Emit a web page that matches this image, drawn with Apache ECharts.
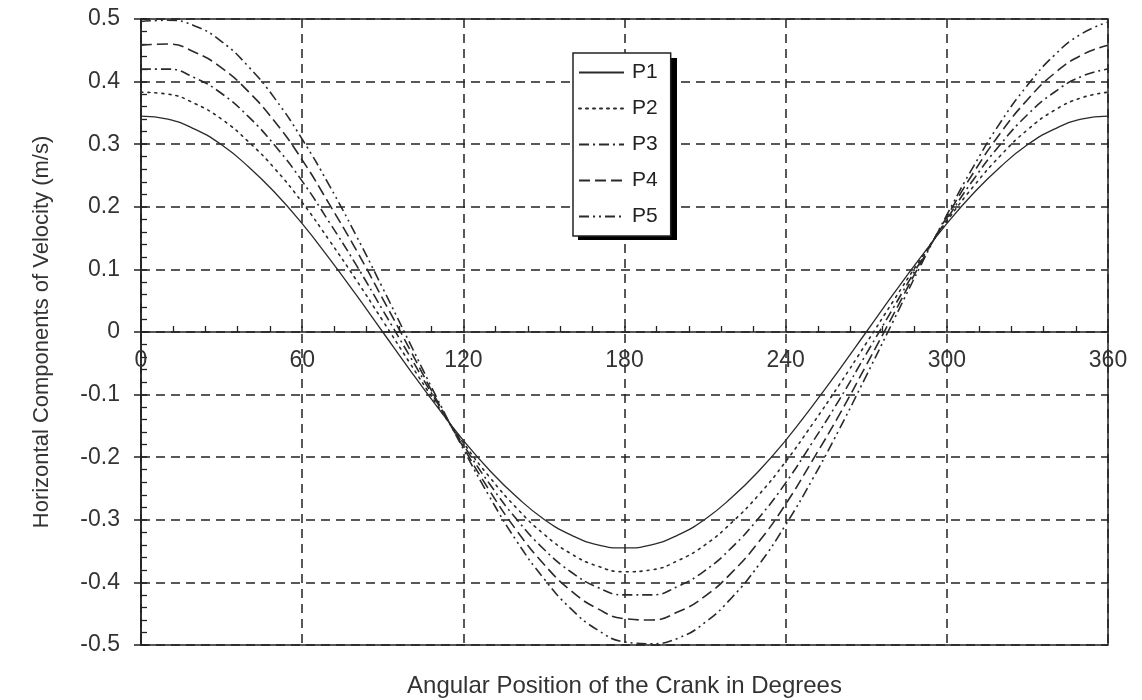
<!DOCTYPE html>
<html lang="en">
<head>
    <meta charset="UTF-8">
    <title>Horizontal Components of Velocity</title>
    <script src="https://cdn.jsdelivr.net/npm/echarts@6/dist/echarts.min.js"></script>
</head>
<body style="margin:0;background:#fff;">
    <div id="main" style="width:1142px;height:700px;"></div>
    <script type="text/javascript">
       // crank angle (degrees)
       var angles = [0, 10, 20, 30, 40, 50, 60, 70, 80, 90, 100, 110, 120,
                     130, 140, 150, 160, 170, 180, 190, 200, 210, 220, 230, 240,
                     250, 260, 270, 280, 290, 300, 310, 320, 330, 340, 350, 360];

       // horizontal velocity readings (m/s)
       var p1 = [0.345, 0.340, 0.324, 0.299, 0.264, 0.222, 0.173, 0.118, 0.060, 0.000, -0.060, -0.118, -0.173,
                 -0.222, -0.264, -0.299, -0.324, -0.340, -0.345, -0.340, -0.324, -0.299, -0.264, -0.222, -0.173,
                 -0.118, -0.060, 0.000, 0.060, 0.118, 0.173, 0.222, 0.264, 0.299, 0.324, 0.340, 0.345];
       var p2 = [0.383, 0.380, 0.365, 0.340, 0.304, 0.260, 0.207, 0.147, 0.084, 0.018, -0.049, -0.115, -0.177,
                 -0.233, -0.282, -0.323, -0.354, -0.374, -0.383, -0.380, -0.365, -0.340, -0.304, -0.260, -0.207,
                 -0.147, -0.084, -0.018, 0.049, 0.115, 0.177, 0.233, 0.282, 0.323, 0.354, 0.374, 0.383];
       var p3 = [0.420, 0.420, 0.406, 0.381, 0.344, 0.297, 0.241, 0.176, 0.108, 0.035, -0.038, -0.111, -0.180,
                 -0.244, -0.300, -0.347, -0.383, -0.408, -0.420, -0.420, -0.406, -0.381, -0.344, -0.297, -0.241,
                 -0.176, -0.108, -0.035, 0.038, 0.111, 0.180, 0.244, 0.300, 0.347, 0.383, 0.408, 0.420];
       var p4 = [0.458, 0.460, 0.447, 0.422, 0.384, 0.335, 0.275, 0.205, 0.132, 0.053, -0.027, -0.108, -0.184,
                 -0.255, -0.318, -0.371, -0.413, -0.442, -0.458, -0.460, -0.447, -0.422, -0.384, -0.335, -0.275,
                 -0.205, -0.132, -0.053, 0.027, 0.108, 0.184, 0.255, 0.318, 0.371, 0.413, 0.442, 0.458];
       var p5 = [0.496, 0.498, 0.489, 0.464, 0.424, 0.372, 0.308, 0.235, 0.155, 0.070, -0.017, -0.104, -0.187,
                 -0.265, -0.335, -0.394, -0.442, -0.476, -0.495, -0.498, -0.489, -0.464, -0.424, -0.372, -0.308,
                 -0.235, -0.155, -0.070, 0.017, 0.104, 0.187, 0.265, 0.335, 0.394, 0.442, 0.476, 0.495];

       var names = ['P1', 'P2', 'P3', 'P4', 'P5'];
       var values = [p1, p2, p3, p4, p5];
       // solid, dotted, dash-dot, dashed, dash-dot-dot
       var dashes = ['solid', [2, 5], [10, 4, 2, 4], [11, 5], [10, 4, 2, 4, 2, 4]];

       var font = 'Liberation Sans, Arial, sans-serif';
       var ink = '#222';

       var pairs = function (ys) {
           var res = [];
           for (var i = 0; i < angles.length; i++) {
               res.push([angles[i], ys[i]]);
           }
           return res;
       };

       var series = [];
       for (var k = 0; k < names.length; k++) {
           series.push({
               name: names[k],
               type: 'line',
               smooth: true,
               symbol: 'none',
               data: pairs(values[k]),
               lineStyle: {
                   color: '#2a2a2a',
                   width: k == 0 ? 1.3 : 1.6,
                   type: dashes[k],
                   cap: k == 1 ? 'round' : 'butt'
               },
               itemStyle: { color: '#2a2a2a' }
           });
       }

       var myChart = echarts.init(document.getElementById('main'));
       var option = {
           backgroundColor: '#fff',
           animation: false,
           grid: {
               left: 141, right: 34, top: 19, bottom: 55,
               outerBoundsMode: 'none',
               show: true,
               borderColor: ink,
               borderWidth: 1.5,
               backgroundColor: 'transparent'
           },
           // drop shadow behind the legend box
           graphic: [{
               type: 'rect',
               z: 2,
               shape: { x: 578, y: 58, width: 99, height: 182 },
               style: { fill: '#000' }
           }],
           legend: {
               z: 4,
               orient: 'vertical',
               left: 573,
               top: 53,
               padding: [9, 13, 9, 5],
               itemGap: 15,
               itemWidth: 45,
               itemHeight: 14,
               backgroundColor: '#fff',
               borderColor: ink,
               borderWidth: 1.5,
               itemStyle: { opacity: 0 },
               textStyle: { fontFamily: font, fontSize: 21, color: ink, padding: [0, 0, 0, 3] },
               data: names
           },
           xAxis: [{
               type: 'value',
               min: 0,
               max: 360,
               interval: 60,
               offset: -313,
               axisLine: { onZero: false, lineStyle: { color: ink, width: 1.5 } },
               axisTick: { inside: true, length: 6, lineStyle: { color: ink, width: 1.5 } },
               minorTick: { show: true, splitNumber: 5, length: 6, lineStyle: { color: ink, width: 1.3 } },
               axisLabel: { fontFamily: font, fontSize: 23, color: '#333', margin: 17 },
               splitLine: { show: true, lineStyle: { color: ink, width: 1.5, type: [9, 6] } }
           }, {
               type: 'value',
               position: 'bottom',
               min: 0,
               max: 360,
               axisLine: { show: false, onZero: false },
               axisTick: { show: false },
               axisLabel: { show: false },
               splitLine: { show: false },
               name: 'Angular Position of the Crank in Degrees',
               nameLocation: 'middle',
               nameGap: 29,
               nameTextStyle: { fontFamily: font, fontSize: 24, color: '#333' }
           }],
           yAxis: [{
               type: 'value',
               min: -0.5,
               max: 0.5,
               interval: 0.1,
               axisLine: { lineStyle: { color: ink, width: 1.5 } },
               axisTick: { inside: true, length: 6, lineStyle: { color: ink, width: 1.5 } },
               minorTick: { show: true, splitNumber: 5, length: 6, lineStyle: { color: ink, width: 1.3 } },
               axisLabel: {
                   fontFamily: font, fontSize: 23, color: '#333', margin: 21,
                   formatter: function (v) {
                       var s = v.toFixed(1);
                       return (s == '0.0' || s == '-0.0') ? '0' : s;
                   }
               },
               splitLine: { show: true, lineStyle: { color: ink, width: 1.5, type: [9, 6] } },
               name: 'Horizontal Components of Velocity (m/s)',
               nameLocation: 'middle',
               nameGap: 88,
               nameTextStyle: { fontFamily: font, fontSize: 22, color: '#333' }
           }, {
               // outside ticks on the left axis
               type: 'value',
               position: 'left',
               min: -0.5,
               max: 0.5,
               interval: 0.1,
               axisLine: { show: false },
               axisTick: { show: true, inside: false, length: 7, lineStyle: { color: ink, width: 1.5 } },
               axisLabel: { show: false },
               splitLine: { show: false }
           }],
           series: series
       };
       myChart.setOption(option);
    </script>
</body>
</html>
